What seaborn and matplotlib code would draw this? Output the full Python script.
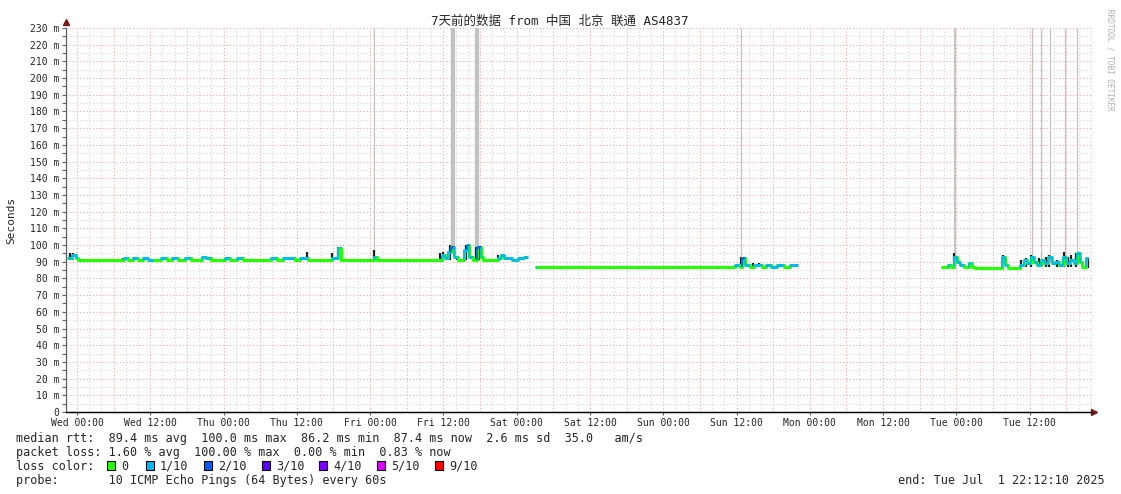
import numpy as np
import pandas as pd
import matplotlib
matplotlib.use('Agg')
import matplotlib.pyplot as plt
import seaborn as sns

# hours since start of window (Tue 22:12:10), median rtt (ms), loss in tenths; nan = no data
t_hours = [0.4, 1.0, 1.6, 2.0, 9.3, 9.5, 10.2, 11.0, 11.8, 12.6, 13.5, 14.3, 15.5, 16.5, 17.3,
           18.4, 19.5, 20.4, 22.2, 23.0, 23.8, 26.0, 26.8, 28.0, 29.0, 30.5, 33.5, 34.5, 35.5,
           36.5, 37.5, 38.3, 39.6, 43.6, 44.6, 45.0, 49.5, 50.5, 51.0, 61.0, 61.5, 62.0, 62.6,
           63.0, 63.6, 64.2, 65.2, 65.6, 66.0, 66.6, 67.3, 67.9, 68.3, 70.7, 71.2, 71.8, 73.0,
           74.0, 75.0, 75.6,
           76.9, 77.2, 109.0, 109.6, 110.3, 110.7, 111.2, 112.0, 112.6, 113.4, 114.0, 114.6,
           115.5, 116.5, 117.5, 118.5, 119.8,
           143.5, 144.4, 144.9, 145.4, 145.9, 146.4, 147.0, 147.9, 148.3, 148.9, 153.3, 153.7,
           154.2, 156.2, 156.8, 157.4, 158.0, 158.5, 159.0, 159.6, 160.2, 160.8, 161.4, 162.0,
           162.6, 163.2, 163.8, 164.4, 165.0, 165.5, 166.0, 166.3, 167.0, 167.4]
median_ms = [92, 94, 92, 91, 91, 92, 91, 92, 91, 92, 91, 91, 92, 91, 92,
             91, 92, 91, 93, 92, 91, 92, 91, 92, 91, 91, 92, 91, 92,
             92, 91, 92, 91, 92, 98, 91, 91, 93, 91, 91, 94, 92, 96,
             99, 93, 91, 97, 100, 93, 91, 99, 93, 91, 92, 94, 92, 91,
             92, 93, np.nan,
             87, 87, 87, 88, 87, 92, 88, 87, 88, 88, 87, 88,
             87, 88, 87, 88, np.nan,
             87, 88, 87, 93, 90, 88, 87, 89, 87, 86, 93, 88,
             86, 88, 91, 89, 93, 90, 88, 91, 89, 93, 89, 90,
             88, 93, 89, 91, 89, 95, 90, 87, 92, np.nan]
loss_tenths = [1, 1, 1, 0, 0, 1, 0, 1, 0, 1, 1, 0, 1, 0, 1,
               0, 1, 0, 1, 1, 0, 1, 0, 1, 0, 0, 1, 0, 1,
               1, 0, 1, 0, 1, 1, 0, 0, 1, 0, 0, 1, 1, 1,
               2, 1, 0, 1, 2, 1, 0, 2, 1, 0, 1, 1, 1, 1,
               1, 1, 0,
               1, 0, 0, 1, 0, 2, 1, 0, 1, 1, 0, 1,
               1, 1, 0, 1, 0,
               0, 1, 0, 1, 1, 1, 0, 1, 0, 0, 1, 1,
               0, 1, 1, 1, 1, 1, 1, 1, 1, 1, 1, 1,
               1, 1, 1, 1, 1, 1, 1, 0, 1, 0]

# dark smoke spikes: time, low, high (ms)
smoke_t = [0.6, 1.2, 9.3, 39.5, 43.5, 44.5, 50.5, 61.2, 61.8, 62.9, 64.0, 65.5, 67.2, 67.6, 70.7,
           110.6, 112.5, 113.5,
           145.4, 148.0, 153.4, 156.3, 157.2, 158.0, 159.3, 160.4, 161.0, 162.3, 163.4, 164.0,
           164.6, 165.4, 167.0, 167.3]
smoke_lo = [91, 91, 90, 91, 91, 91, 90, 91, 91, 91, 91, 91, 91, 91, 91,
            87, 87, 87,
            87, 86, 86, 86, 87, 87, 87, 87, 87, 87, 87, 87,
            87, 87, 86, 86]
smoke_hi = [95, 95, 92, 96, 95, 99, 97, 95, 96, 100, 92, 100, 99, 99, 94,
            93, 89, 89,
            95, 90, 94, 91, 92, 94, 92, 93, 94, 91, 96, 93,
            94, 95, 92, 92]

# light smoke columns reaching past the top
column_t = [50.5, 63.3, 67.3, 110.6, 145.6, 158.1, 159.7, 161.2, 163.5, 165.5]
column_w = [0.2, 0.7, 0.7, 0.2, 0.3, 0.2, 0.2, 0.2, 0.2, 0.2]
column_lo = [93, 96, 96, 92, 92, 90, 90, 90, 90, 90]

loss_colors = ['#26ff00', '#00b8ff', '#0059ff', '#5e00ff', '#7e00ff', '#dd00ff', '#ff0000']
loss_labels = ['0', '1/10', '2/10', '3/10', '4/10', '5/10', '9/10']
day_names = ['Wed', 'Thu', 'Fri', 'Sat', 'Sun', 'Mon', 'Tue']

mono = ['DejaVu Sans Mono', 'Noto Sans CJK SC']
sns.set_style('white')
plt.rcParams['font.family'] = mono

fig = plt.figure(figsize=(11.21, 4.94), dpi=100)
ax = fig.add_axes([66 / 1121, 1 - 412 / 494, 1026 / 1121, 384 / 494])

first_tick = 1 + 47 / 60 + 50 / 3600  # Wed 00:00
# grid
for v in range(5, 231, 5):
    ax.axhline(v, color='#f0a8a8' if v % 10 == 0 else '#d4d4d4', lw=0.8, ls=(0, (1, 2)), zorder=0)
h = first_tick
while h < 168:
    ax.axvline(h, color='#f0a8a8', lw=0.8, ls=(0, (1, 2)), zorder=0)
    for k in (2, 4):
        if h + k < 168:
            ax.axvline(h + k, color='#d4d4d4', lw=0.8, ls=(0, (1, 2)), zorder=0)
    h += 6

df = pd.DataFrame({'t': t_hours, 'median': median_ms, 'loss': loss_tenths})
df['segment'] = df['median'].isna().shift(1, fill_value=False).cumsum()

# 1026 px for 168 h, 0.72 pt per px
px_per_h = 1026 / 168
for ct, cw, lo in zip(column_t, column_w, column_lo):
    ax.vlines(ct, lo, 230, color='#c2c2c2', lw=max(cw * px_per_h, 1.2) * 0.72, zorder=1)
ax.vlines(smoke_t, smoke_lo, smoke_hi, color='#1e1e1e', lw=1.6, zorder=2)

sns.lineplot(data=df.dropna(), x='t', y='median', units='segment', estimator=None,
             drawstyle='steps-post', color=loss_colors[0], lw=2.2, ax=ax, zorder=3)
for i in range(len(df) - 1):
    m, m2 = df['median'][i], df['median'][i + 1]
    if np.isnan(m):
        continue
    c = loss_colors[df['loss'][i]]
    ax.hlines(m, df['t'][i], df['t'][i + 1], color=c, lw=2.2, zorder=4)
    if not np.isnan(m2):
        ax.vlines(df['t'][i + 1], min(m, m2), max(m, m2), color=loss_colors[df['loss'][i + 1]],
                  lw=1.2, zorder=4)

ax.set_xlim(0, 168)
ax.set_ylim(0, 230)
xt = [first_tick + 12 * k for k in range(14)]
ax.set_xticks(xt)
ax.set_xticklabels([f"{day_names[k // 2]} {'00' if k % 2 == 0 else '12'}:00" for k in range(14)],
                   fontsize=7)
ax.set_yticks(range(0, 231, 10))
ax.set_yticklabels([f"{v} m" if v else "0" for v in range(0, 231, 10)], fontsize=7)
ax.set_yticks(range(5, 231, 10), minor=True)
ax.tick_params(axis='y', which='both', left=True, length=3, width=0.8, color='#606060', pad=2)
ax.tick_params(axis='x', bottom=True, length=2, width=0.8, color='#606060', pad=2)
ax.set_xlabel('')
ax.set_ylabel('Seconds', fontsize=8, labelpad=10)
for s in ('top', 'right'):
    ax.spines[s].set_visible(False)
ax.spines['left'].set_color('#606060')
ax.spines['bottom'].set_color('black')
ax.spines['left'].set_linewidth(0.9)
ax.spines['bottom'].set_linewidth(0.9)
ax.plot([0], [1.015], marker='^', color='#7a1a1a', ms=4, transform=ax.transAxes, clip_on=False)
ax.plot([0, 1.002], [0, 0], color='black', lw=0.9, transform=ax.transAxes, clip_on=False)
ax.plot([1.002], [0], marker='>', color='#7a1a1a', ms=4, transform=ax.transAxes, clip_on=False)

fig.text(560 / 1121, 1 - 21 / 494, '7天前的数据 from 中国 北京 联通 AS4837',
         ha='center', va='center', fontsize=9, family=mono)
fig.text(1110 / 1121, 1 - 60 / 494, 'RRDTOOL / TOBI OETIKER', rotation=270, ha='center',
         va='center', fontsize=5.5, color='#b0b0b0')

fs = 8.5
fig.text(16 / 1121, 1 - 438 / 494,
         'median rtt:  89.4 ms avg  100.0 ms max  86.2 ms min  87.4 ms now  2.6 ms sd  35.0   am/s',
         va='center', fontsize=fs)
fig.text(16 / 1121, 1 - 452 / 494, 'packet loss: 1.60 % avg  100.00 % max  0.00 % min  0.83 % now',
         va='center', fontsize=fs)
fig.text(16 / 1121, 1 - 466 / 494, 'loss color:', va='center', fontsize=fs)
square_x = [107, 146, 204, 262, 319, 377, 435]
for sx, col, lab in zip(square_x, loss_colors, loss_labels):
    fig.patches.append(plt.Rectangle((sx / 1121, 1 - 470 / 494), 8 / 1121, 9 / 494,
                                     transform=fig.transFigure, facecolor=col,
                                     edgecolor='black', lw=0.8))
    fig.text((sx + 14) / 1121, 1 - 466 / 494, lab, va='center', fontsize=fs)
fig.text(16 / 1121, 1 - 480 / 494, 'probe:       10 ICMP Echo Pings (64 Bytes) every 60s',
         va='center', fontsize=fs)
fig.text(1105 / 1121, 1 - 480 / 494, 'end: Tue Jul  1 22:12:10 2025', ha='right',
         va='center', fontsize=fs)

fig.savefig('out.png', dpi=100)
